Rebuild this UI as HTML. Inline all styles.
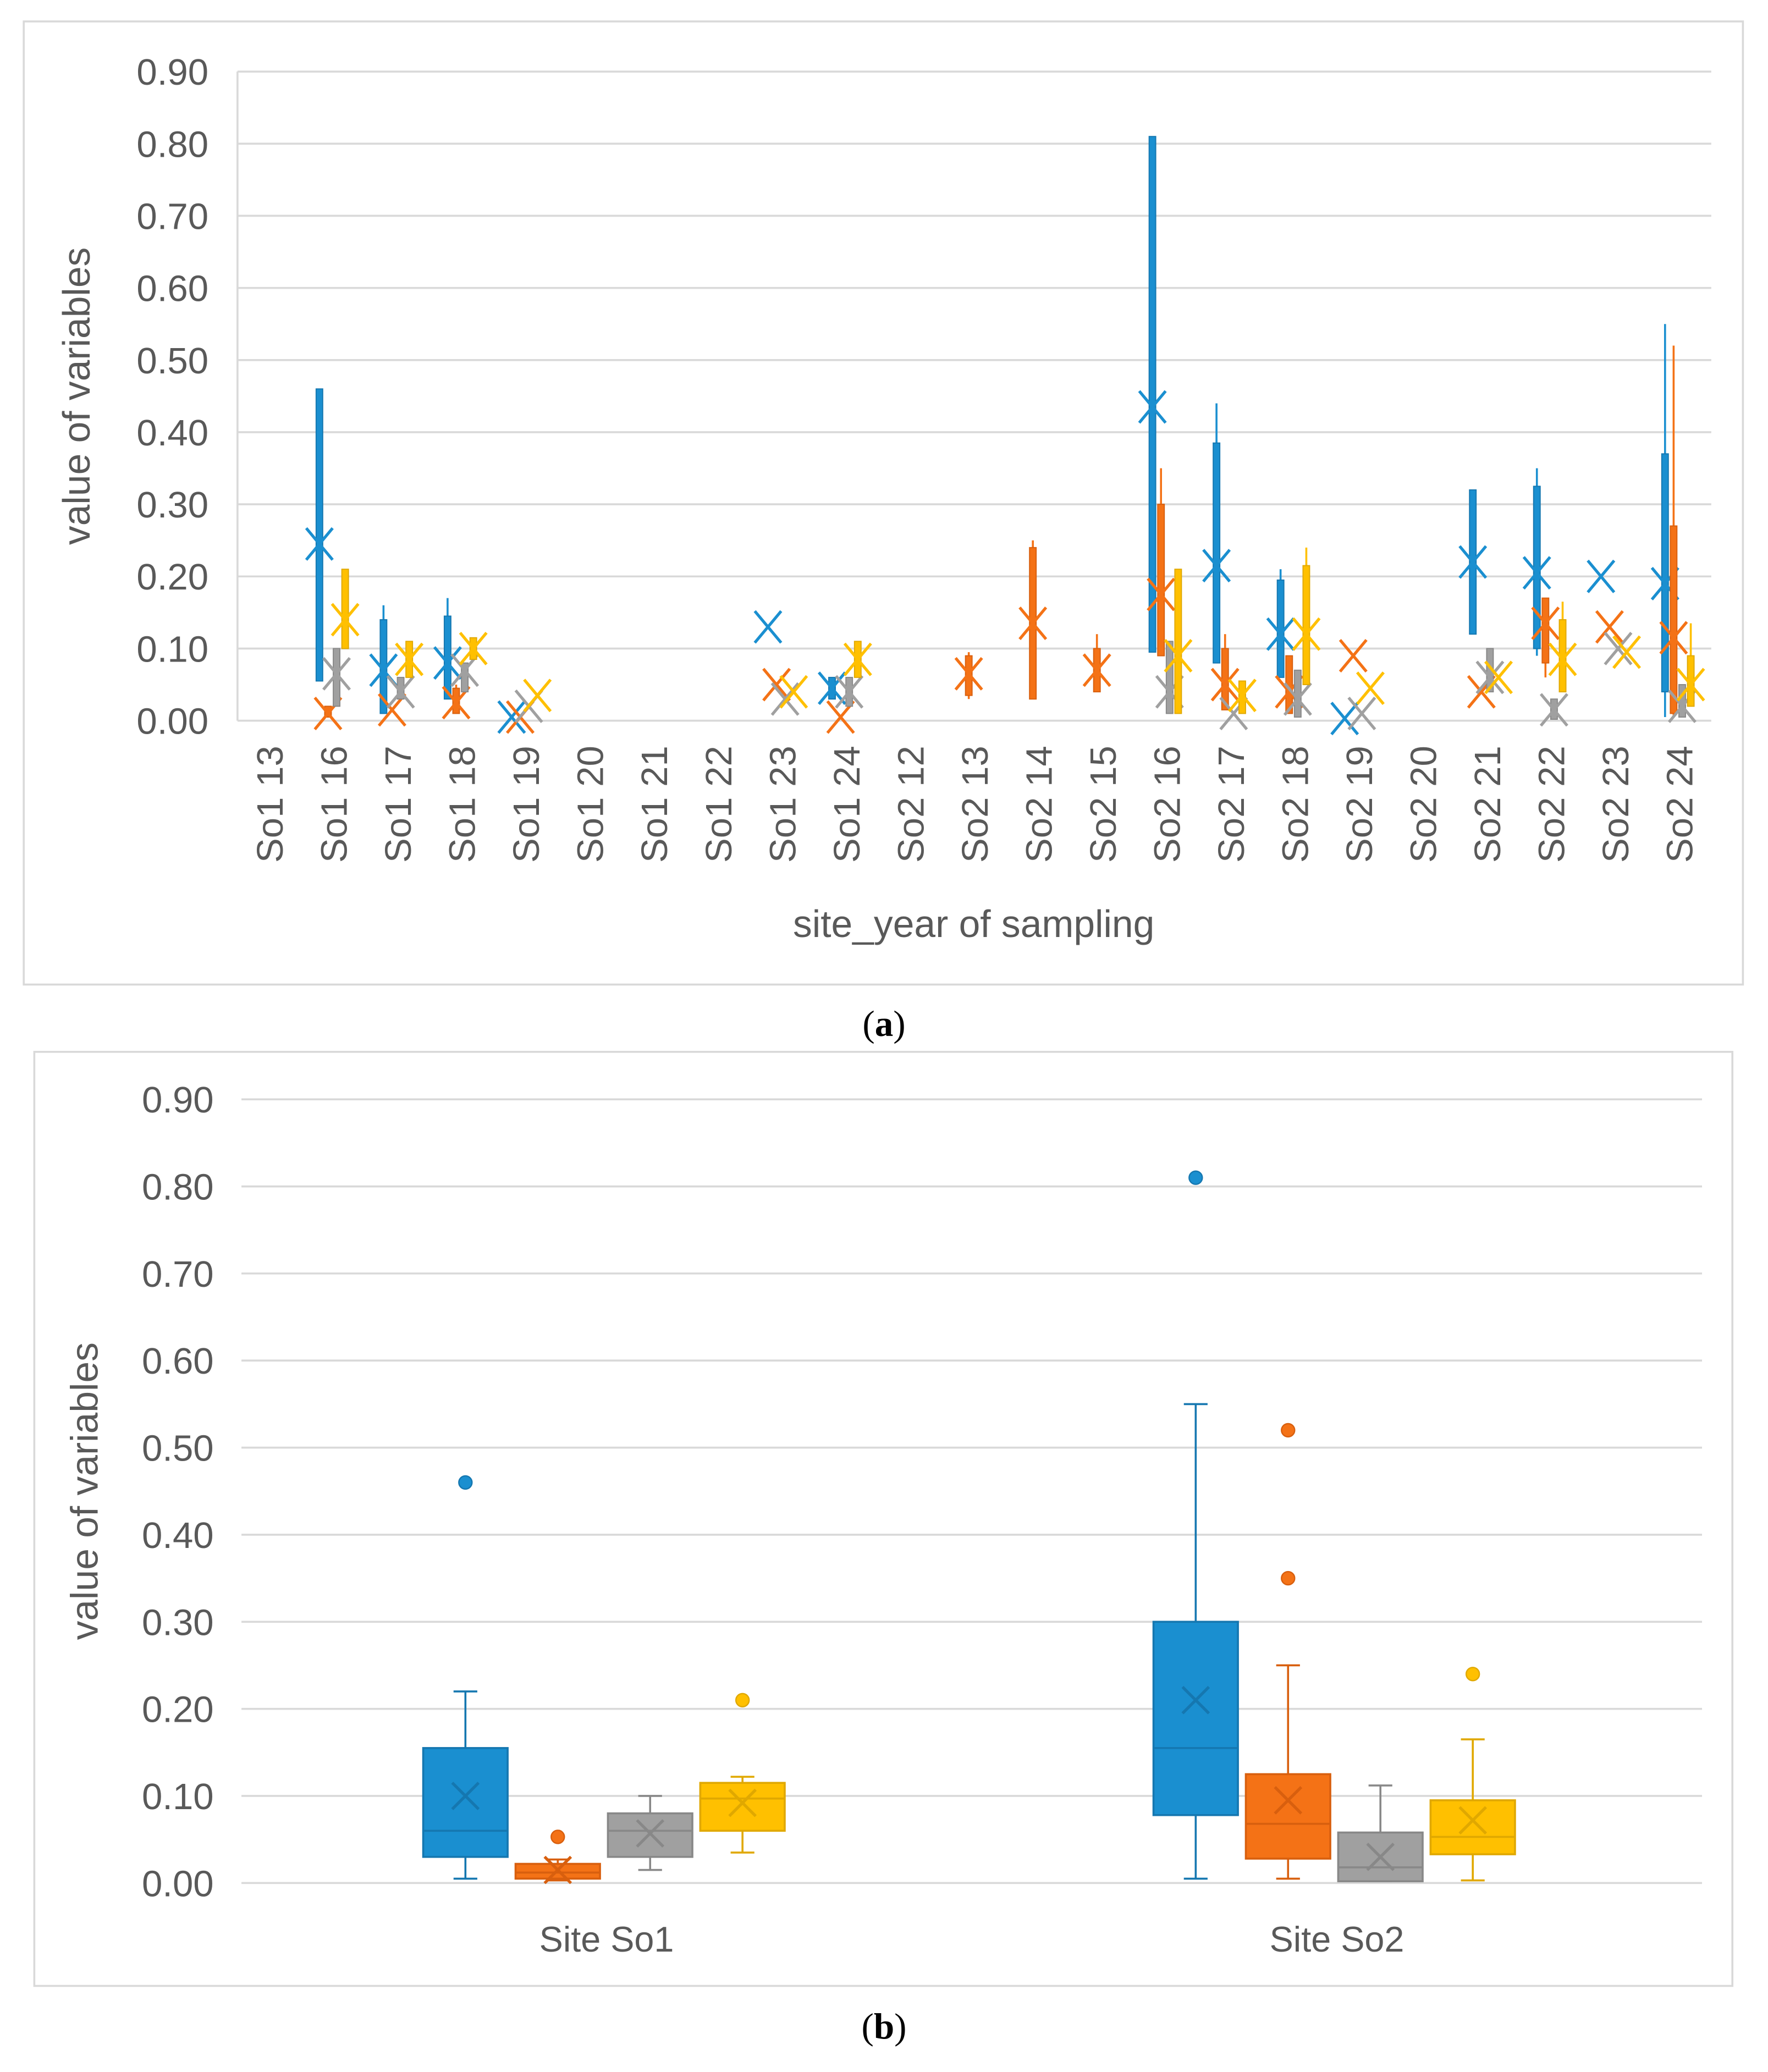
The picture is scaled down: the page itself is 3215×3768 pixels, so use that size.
<!DOCTYPE html>
<html><head><meta charset="utf-8">
<style>
html,body{margin:0;padding:0;background:#fff;}
svg{display:block;}
text{font-family:"Liberation Sans","DejaVu Sans",sans-serif;fill:#595959;}
</style></head>
<body>
<svg id="root" width="3215" height="3768" viewBox="0 0 1340 1570" xmlns="http://www.w3.org/2000/svg">
<rect x="0" y="0" width="1340" height="1570" fill="#fff"/>
<rect x="18" y="16" width="1303" height="730" fill="#fff" stroke="#d9d9d9" stroke-width="1.5"/>
<rect x="26" y="797" width="1287" height="708" fill="#fff" stroke="#d9d9d9" stroke-width="1.5"/>
<g id="ga"></g>
<g id="gb"></g>
<text transform="translate(68,300) rotate(-90)" text-anchor="middle" font-size="29">value of variables</text>
<text x="738" y="710" text-anchor="middle" font-size="29">site_year of sampling</text>
<text transform="translate(74,1130) rotate(-90)" text-anchor="middle" font-size="29">value of variables</text>
<text x="670" y="785" text-anchor="middle" font-size="28" style="font-family:'Liberation Serif',serif;fill:#000">(<tspan font-weight="bold">a</tspan>)</text>
<text x="670" y="1545" text-anchor="middle" font-size="28" style="font-family:'Liberation Serif',serif;fill:#000">(<tspan font-weight="bold">b</tspan>)</text>
</svg>
<script>
// ---------- Chart (a) data ----------
const catsA = ["So1 13","So1 16","So1 17","So1 18","So1 19","So1 20","So1 21","So1 22","So1 23","So1 24","So2 12","So2 13","So2 14","So2 15","So2 16","So2 17","So2 18","So2 19","So2 20","So2 21","So2 22","So2 23","So2 24"];
const ticksA = ["0.00","0.10","0.20","0.30","0.40","0.50","0.60","0.70","0.80","0.90"];
// each entry: [min, q1, q3, max, mean] or null
const blueA = [null,[0.055,0.055,0.46,0.46,0.245],[0.01,0.01,0.14,0.16,0.07],[0.03,0.03,0.145,0.17,0.08],[0.005,0.005,0.005,0.005,0.005],null,null,null,[0.13,0.13,0.13,0.13,0.13],[0.03,0.03,0.06,0.06,0.045],null,null,null,null,[0.095,0.095,0.81,0.81,0.435],[0.08,0.08,0.385,0.44,0.215],[0.06,0.06,0.195,0.21,0.12],[0.003,0.003,0.003,0.003,0.003],null,[0.12,0.12,0.32,0.32,0.22],[0.09,0.10,0.325,0.35,0.205],[0.20,0.20,0.20,0.20,0.20],[0.005,0.04,0.37,0.55,0.19]];
const orangeA = [null,[0.005,0.005,0.02,0.02,0.01],[0.015,0.015,0.015,0.015,0.015],[0.01,0.01,0.045,0.05,0.025],[0.005,0.005,0.005,0.005,0.005],null,null,null,[0.05,0.05,0.05,0.05,0.05],[0.005,0.005,0.005,0.005,0.005],null,[0.03,0.035,0.09,0.095,0.065],[0.03,0.03,0.24,0.25,0.135],[0.04,0.04,0.10,0.12,0.07],[0.09,0.09,0.30,0.35,0.175],[0.015,0.015,0.10,0.12,0.05],[0.01,0.01,0.09,0.09,0.04],[0.09,0.09,0.09,0.09,0.09],null,[0.04,0.04,0.04,0.04,0.04],[0.06,0.08,0.17,0.17,0.135],[0.13,0.13,0.13,0.13,0.13],[0.005,0.01,0.27,0.52,0.115]];
const grayA = [null,[0.02,0.02,0.10,0.10,0.065],[0.03,0.03,0.06,0.06,0.04],[0.04,0.04,0.08,0.08,0.07],[0.02,0.02,0.02,0.02,0.02],null,null,null,[0.03,0.03,0.03,0.03,0.03],[0.02,0.02,0.06,0.06,0.04],null,null,null,null,[0.01,0.01,0.11,0.11,0.04],[0.01,0.01,0.01,0.01,0.01],[0.005,0.005,0.07,0.07,0.03],[0.01,0.01,0.01,0.01,0.01],null,[0.04,0.04,0.10,0.10,0.06],[0.002,0.002,0.03,0.03,0.015],[0.10,0.10,0.10,0.10,0.10],[0.005,0.005,0.05,0.05,0.02]];
const yellowA = [null,[0.10,0.10,0.21,0.21,0.14],[0.06,0.06,0.11,0.11,0.085],[0.085,0.085,0.115,0.115,0.10],[0.035,0.035,0.035,0.035,0.035],null,null,null,[0.04,0.04,0.04,0.04,0.04],[0.06,0.06,0.11,0.11,0.085],null,null,null,null,[0.01,0.01,0.21,0.21,0.09],[0.01,0.01,0.055,0.055,0.035],[0.05,0.05,0.215,0.24,0.12],[0.045,0.045,0.045,0.045,0.045],null,[0.06,0.06,0.06,0.06,0.06],[0.04,0.04,0.14,0.165,0.085],[0.095,0.095,0.095,0.095,0.095],[0.02,0.02,0.09,0.135,0.05]];

// ---------- Chart (b) data ----------
const catsB = ["Site So1","Site So2"];
const ticksB = ["0.00","0.10","0.20","0.30","0.40","0.50","0.60","0.70","0.80","0.90"];
// [min, q1, median, q3, max, mean]
const blueB = [[0.005,0.03,0.06,0.155,0.22,0.10],[0.005,0.078,0.155,0.30,0.55,0.21]];
const orangeB = [[0.003,0.005,0.012,0.022,0.027,0.015],[0.005,0.028,0.068,0.125,0.25,0.095]];
const grayB = [[0.015,0.03,0.06,0.08,0.10,0.057],[0.002,0.002,0.018,0.058,0.112,0.03]];
const yellowB = [[0.035,0.06,0.097,0.115,0.122,0.092],[0.003,0.033,0.053,0.095,0.165,0.072]];
const blueOut = [[0.46],[0.81]];
const orangeOut = [[0.053],[0.35,0.52]];
const grayOut = [[],[]];
const yellowOut = [[0.21],[0.24]];

const NS = "http://www.w3.org/2000/svg";
function mk(parent, tag, attrs){ const e=document.createElementNS(NS,tag); for(const k in attrs) e.setAttribute(k,attrs[k]); parent.appendChild(e); return e; }
const colors = ["#1a8fd0","#f47216","#a0a0a0","#ffc000"];
const dark = ["#1577b0","#d85f0e","#888888","#e0a800"];
const names = ["blue","orange","gray","yellow"];

// ---------- Chart (a) ----------
const ga = document.getElementById('ga');
const A = {x0:180, x1:1297, y0:546, y1:54, max:0.9};
const yA = v => A.y0 - v/A.max*(A.y0-A.y1);
const bw = (A.x1-A.x0)/catsA.length;
const xA = i => A.x0 + bw*(i+0.5);
ticksA.forEach((t,i)=>{
  const v=parseFloat(t);
  const gl=mk(ga,'line',{x1:A.x0,x2:A.x1,y1:yA(v),y2:yA(v),stroke:'#d9d9d9','stroke-width':1.5});
  
  
  const tx=mk(ga,'text',{x:158,y:yA(v)+10,'text-anchor':'end','font-size':28});
  tx.textContent=t;
  
  
});
mk(ga,'line',{x1:A.x0,x2:A.x0,y1:A.y1,y2:A.y0,stroke:'#d9d9d9','stroke-width':1.5});
catsA.forEach((c,i)=>{
  const tx=mk(ga,'text',{transform:`translate(${xA(i)+10},565) rotate(-90)`,'text-anchor':'end','font-size':28});
  tx.textContent=c;
  
  
});
function drawMean(g,cx,cy,col,hw,hh){
  mk(g,'line',{x1:cx-hw,y1:cy-hh,x2:cx+hw,y2:cy+hh,stroke:col,'stroke-width':2.2});
  mk(g,'line',{x1:cx-hw,y1:cy+hh,x2:cx+hw,y2:cy-hh,stroke:col,'stroke-width':2.2});
}
[blueA,orangeA,grayA,yellowA].forEach((ser,k)=>{
  ser.forEach((d,i)=>{
    if(!d) return;
    const cx = xA(i) + (k-1.5)*6.5 - 1;
    const g = mk(ga,'g',{});
    
    
    const [mn,q1,q3,mx,mean]=d;
    if(mx>q3) mk(g,'line',{x1:cx,x2:cx,y1:yA(mx),y2:yA(q3),stroke:colors[k],'stroke-width':1.5});
    if(mn<q1) mk(g,'line',{x1:cx,x2:cx,y1:yA(q1),y2:yA(mn),stroke:colors[k],'stroke-width':1.5});
    if(q3>q1) mk(g,'rect',{x:cx-2.5,y:yA(q3),width:5,height:yA(q1)-yA(q3),fill:colors[k],stroke:dark[k],'stroke-width':0.8});
    drawMean(g,cx,yA(mean),colors[k],10,12);
  });
});

// ---------- Chart (b) ----------
const gb = document.getElementById('gb');
const B = {x0:183, x1:1290, y0:1427, y1:833, max:0.9};
const yB = v => B.y0 - v/B.max*(B.y0-B.y1);
const cwB = (B.x1-B.x0)/catsB.length;
const xB = i => B.x0 + cwB*(i+0.5);
ticksB.forEach((t,i)=>{
  const v=parseFloat(t);
  const gl=mk(gb,'line',{x1:B.x0,x2:B.x1,y1:yB(v),y2:yB(v),stroke:'#d9d9d9','stroke-width':1.5});
  
  
  const tx=mk(gb,'text',{x:162,y:yB(v)+10,'text-anchor':'end','font-size':28});
  tx.textContent=t;
  
  
});
catsB.forEach((c,i)=>{
  const tx=mk(gb,'text',{x:xB(i),y:1479,'text-anchor':'middle','font-size':27});
  tx.textContent=c;
  
  
});
const outs=[blueOut,orangeOut,grayOut,yellowOut];
[blueB,orangeB,grayB,yellowB].forEach((ser,k)=>{
  ser.forEach((d,i)=>{
    const cx = xB(i) + (k-1.5)*70 - 2;
    const g = mk(gb,'g',{});
    
    
    const [mn,q1,md,q3,mx,mean]=d;
    const c=colors[k], dk=dark[k];
    mk(g,'line',{x1:cx,x2:cx,y1:yB(mx),y2:yB(q3),stroke:dk,'stroke-width':1.5});
    mk(g,'line',{x1:cx,x2:cx,y1:yB(q1),y2:yB(mn),stroke:dk,'stroke-width':1.5});
    mk(g,'line',{x1:cx-9,x2:cx+9,y1:yB(mx),y2:yB(mx),stroke:dk,'stroke-width':1.5});
    mk(g,'line',{x1:cx-9,x2:cx+9,y1:yB(mn),y2:yB(mn),stroke:dk,'stroke-width':1.5});
    mk(g,'rect',{x:cx-32,y:yB(q3),width:64,height:Math.max(1,yB(q1)-yB(q3)),fill:c,stroke:dk,'stroke-width':1.5});
    mk(g,'line',{x1:cx-32,x2:cx+32,y1:yB(md),y2:yB(md),stroke:dk,'stroke-width':1.5});
    drawMean(g,cx,yB(mean),dk,10,10);
    outs[k][i].forEach(v=>{
      const o=mk(g,'circle',{cx:cx,cy:yB(v),r:5,fill:c,stroke:dk,'stroke-width':1});
      
      
    });
  });
});
</script>
</body></html>
